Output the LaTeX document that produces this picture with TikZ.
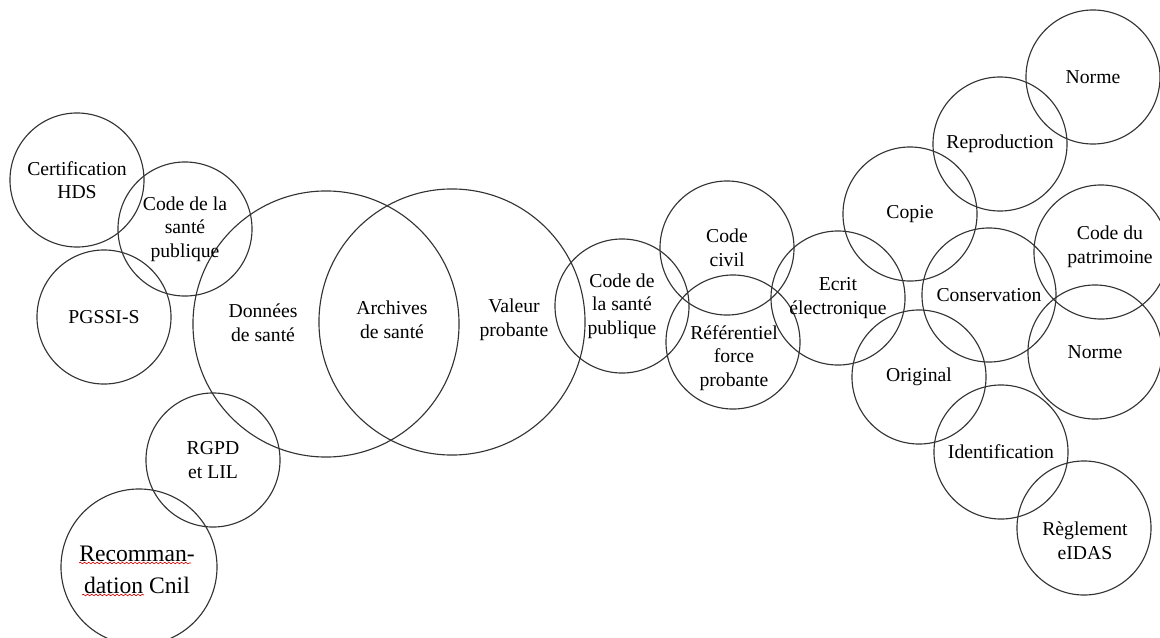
\documentclass[tikz,border=0pt]{standalone}
\usepackage{fontspec}
\setmainfont{Liberation Serif}
\usetikzlibrary{positioning, decorations.pathmorphing}

\newcommand{\bubblefont}{\fontsize{14}{16.8}\selectfont}

\begin{document}
\begin{tikzpicture}[x=0.025cm, y=-0.025cm,
  bubble/.style={circle, draw=black!80, line width=0.8pt, minimum size=3.35cm, inner sep=0pt, align=center, font=\bubblefont},
  bigbubble/.style={bubble, minimum size=6.65cm},
  word/.style={align=center, font=\bubblefont, inner sep=0pt},
  typo/.style={red!85!black, line width=0.45pt, decorate, decoration={snake, amplitude=0.55pt, segment length=3pt}}]
\useasboundingbox (0,0) rectangle (1160,638);

% Santé
\node[bigbubble] (donnees) at (326,324) {};
\node[bigbubble] (archives) at (452,322) {};
\node[word] (donneestxt) at (263,323) {Données\\de santé};
\node[word] (archivestxt) at (392,320) {Archives\\de santé};
\node[word] (valeurtxt) at (514,320) {Valeur\\probante};

\node[bubble] (hds) at (77,180) {Certification\\HDS};
\node[bubble] (cspleft) at (185,229) {Code de la\\santé\\publique};
\node[bubble] (pgssi) at (104,317) {PGSSI-S};
\node[bubble] (rgpd) at (213,460) {RGPD\\et LIL};
\node[bubble, minimum size=3.9cm] (cnil) at (139,567) {};
\node[word, font=\fontsize{16.8}{22.5}\selectfont] (cniltxt) at (137,570) {Recomman-\\dation Cnil};
\draw[typo] (79,563) -- (191,563);
\draw[typo] (82,595) -- (144,595);

% Valeur probante
\node[bubble] (cspmid) at (622,306) {Code de\\la santé\\publique};
\node[bubble] (civil) at (727,248) {Code\\civil};
\node[bubble] (referentiel) at (733,342) {};
\node[word] (referentieltxt) at (734,358) {Référentiel\\force\\probante};
\node[bubble] (ecrit) at (838,298) {Ecrit\\électronique};

% Ecrit électronique
\node[bubble] (copie) at (910,214) {Copie};
\node[bubble] (repro) at (1000,144) {Reproduction};
\node[bubble] (normetop) at (1093,77) {Norme};
\node[bubble] (conservation) at (989,295) {Conservation};
\node[bubble] (patrimoine) at (1101,252) {};
\node[word] (patrimoinetxt) at (1110,247) {Code du\\patrimoine};
\node[bubble] (normeright) at (1095,352) {Norme};
\node[bubble] (original) at (919,377) {Original};
\node[bubble] (ident) at (1001,452) {Identification};
\node[bubble] (eidas) at (1084,528) {};
\node[word] (eidastxt) at (1085,541) {Règlement\\eIDAS};
\end{tikzpicture}
\end{document}
